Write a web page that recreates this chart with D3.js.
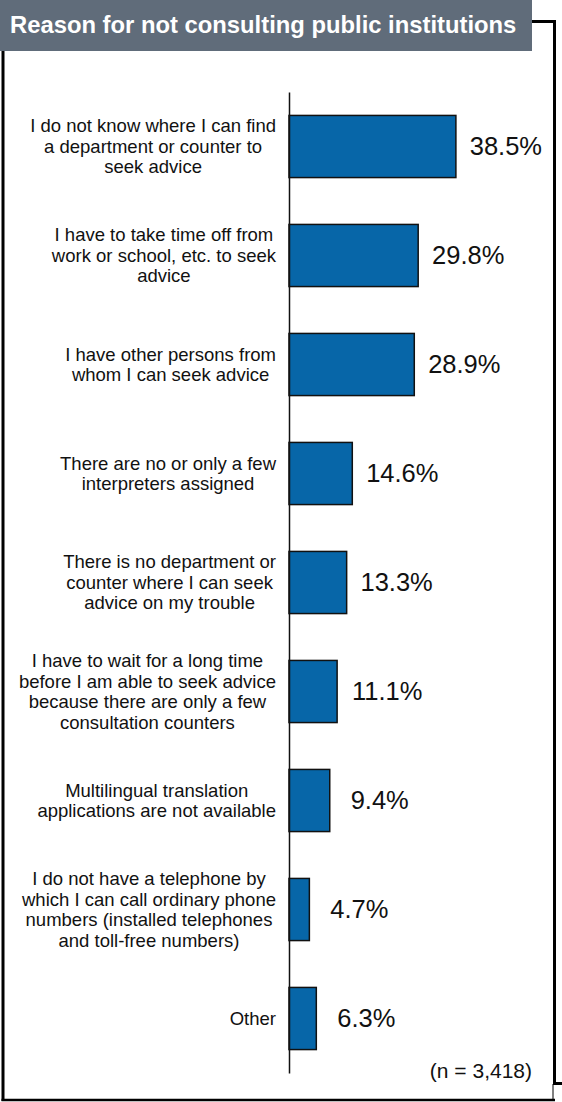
<!DOCTYPE html>
<html>
<head>
<meta charset="utf-8">
<script src="https://cdn.jsdelivr.net/npm/d3@7/dist/d3.min.js"></script>
<style>
  html, body { margin: 0; padding: 0; background: #ffffff; }
  svg { display: block; }
  text { font-family: "Liberation Sans", Arial, Helvetica, sans-serif; }
</style>
</head>
<body>
<script>
// Reasons given, one array entry per bar; each entry holds its wrapped lines
const categories = [
  ["I do not know where I can find", "a department or counter to", "seek advice"],
  ["I have to take time off from", "work or school, etc. to seek", "advice"],
  ["I have other persons from", "whom I can seek advice"],
  ["There are no or only a few", "interpreters assigned"],
  ["There is no department or", "counter where I can seek", "advice on my trouble"],
  ["I have to wait for a long time", "before I am able to seek advice", "because there are only a few", "consultation counters"],
  ["Multilingual translation", "applications are not available"],
  ["I do not have a telephone by", "which I can call ordinary phone", "numbers (installed telephones", "and toll-free numbers)"],
  ["Other"]
];
// Share of respondents (%)
const values = [38.5, 29.8, 28.9, 14.6, 13.3, 11.1, 9.4, 4.7, 6.3];
const titleText = "Reason for not consulting public institutions";
const sampleNote = "(n = 3,418)";

const W = 562, H = 1102;
const svg = d3.select("body").append("svg").attr("width", W).attr("height", H);

// Title banner
svg.append("rect").attr("x", 0).attr("y", 0).attr("width", 532).attr("height", 51)
  .attr("fill", "#606c7a");
svg.append("text").attr("x", 10).attr("y", 33)
  .attr("fill", "#ffffff").attr("font-size", 23.8).attr("font-weight", "bold")
  .text(titleText);

// Frame around the panel
const frame = svg.append("g").attr("stroke", "#000").attr("fill", "none");
frame.append("line").attr("x1", 3).attr("y1", 51).attr("x2", 3).attr("y2", 1101).attr("stroke-width", 3);
frame.append("line").attr("x1", 1.5).attr("y1", 1100).attr("x2", 555).attr("y2", 1100).attr("stroke-width", 2.5);
frame.append("line").attr("x1", 532).attr("y1", 21.5).attr("x2", 556).attr("y2", 21.5).attr("stroke-width", 3);
frame.append("line").attr("x1", 554.5).attr("y1", 20).attr("x2", 554.5).attr("y2", 1084).attr("stroke-width", 3);
frame.append("line").attr("x1", 553).attr("y1", 1083.5).attr("x2", 562).attr("y2", 1083.5).attr("stroke-width", 3);
frame.append("line").attr("x1", 553).attr("y1", 1084).attr("x2", 553).attr("y2", 1100).attr("stroke-width", 1);

// Scales
const x = d3.scaleLinear().domain([0, 40]).range([289, 289 + 173.4]);
const y = d3.scaleBand().domain(d3.range(values.length)).range([92, 1073])
  .paddingInner(0.43).paddingOuter(0.215);

// Bars
svg.append("g").selectAll("rect").data(values).join("rect")
  .attr("x", x(0))
  .attr("y", (d, i) => y(i))
  .attr("width", d => x(d) - x(0))
  .attr("height", y.bandwidth())
  .attr("fill", "#0766a8")
  .attr("stroke", "#111")
  .attr("stroke-width", 1.5);

// Category axis line
const axis = d3.axisLeft(y).tickSize(0).tickFormat("");
svg.append("g").attr("transform", `translate(${x(0)},0)`).call(axis)
  .call(g => g.select(".domain").attr("stroke", "#111").attr("stroke-width", 1.5));

// Value labels, centred a fixed distance beyond each bar end
svg.append("g").selectAll("text").data(values).join("text")
  .attr("x", d => x(d) + 50)
  .attr("y", (d, i) => y(i) + y.bandwidth() / 2)
  .attr("dy", "0.35em")
  .attr("text-anchor", "middle")
  .attr("font-size", 25.5)
  .attr("fill", "#111")
  .text(d => d.toFixed(1) + "%");

// Category labels: centred lines, block right-aligned to the axis
const fs = 18.5, lh = 20.5, rightEdge = 276;
categories.forEach((lines, i) => {
  const cy = y(i) + y.bandwidth() / 2;
  const t = svg.append("text").attr("font-size", fs).attr("fill", "#111")
    .attr("text-anchor", "middle");
  const spans = lines.map((ln, k) => t.append("tspan")
    .attr("y", cy - (lines.length - 1) * lh / 2 + k * lh + fs * 0.35)
    .text(ln));
  const maxW = d3.max(spans, s => s.node().getComputedTextLength());
  spans.forEach(s => s.attr("x", rightEdge - maxW / 2));
});

// Sample size note
svg.append("text").attr("x", 532).attr("y", 1078)
  .attr("text-anchor", "end").attr("font-size", 21).attr("fill", "#111")
  .text(sampleNote);
</script>
</body>
</html>
